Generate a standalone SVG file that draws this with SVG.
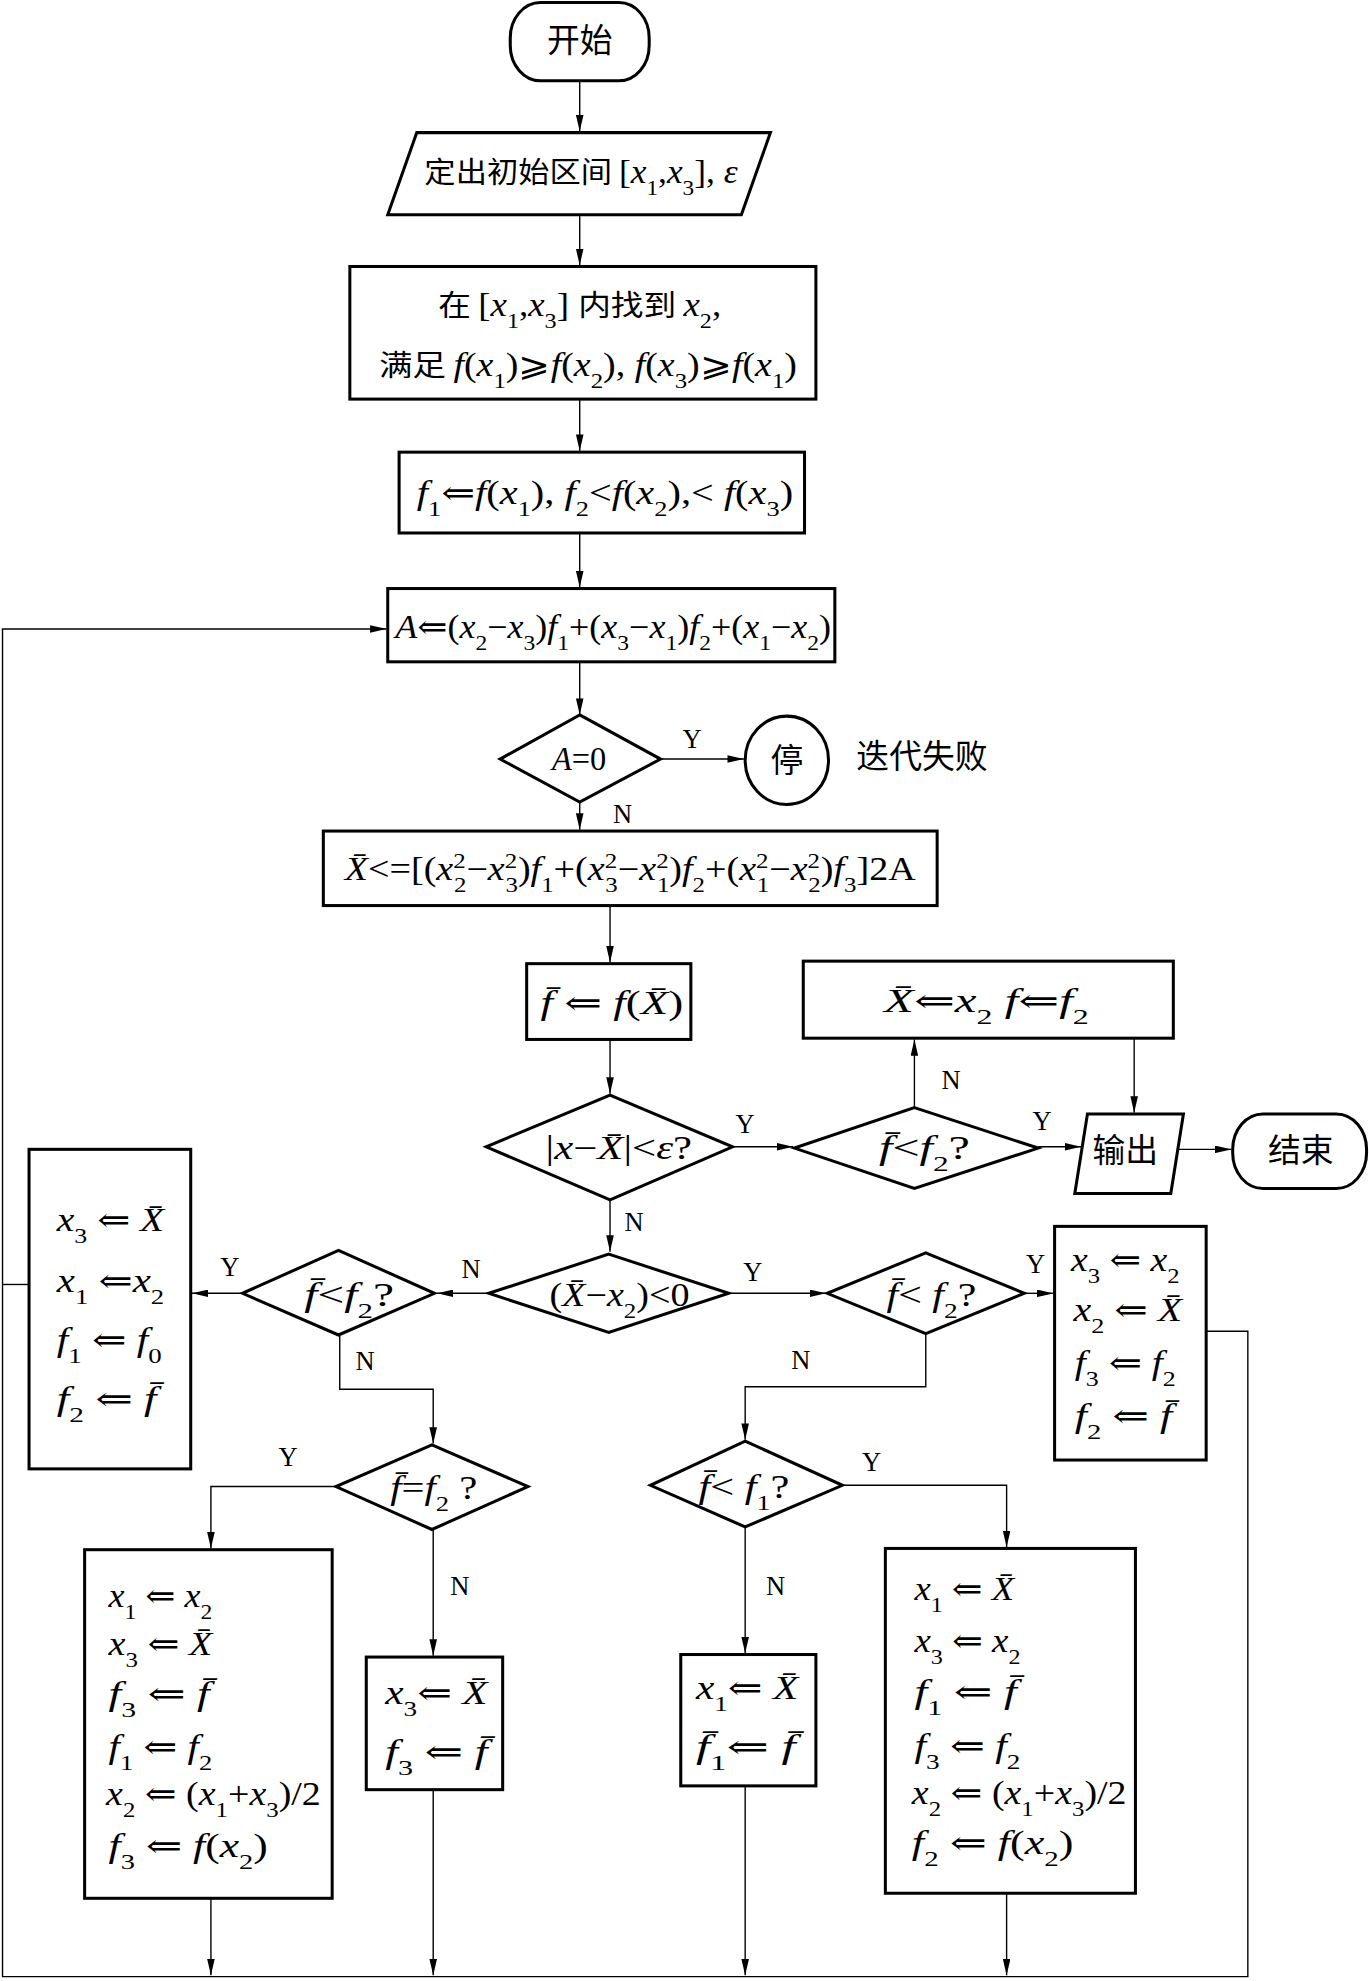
<svg xmlns="http://www.w3.org/2000/svg" width="1369" height="1981" viewBox="0 0 1369 1981">
<style>
.box{fill:#fff;stroke:#000;stroke-width:2.4}
.con{fill:none;stroke:#000;stroke-width:1.1}
.m{font-family:"Liberation Serif","DejaVu Serif","Noto Sans CJK SC",serif;font-size:26px;fill:#000}
.i{font-style:italic}
.cn{font-family:"Noto Sans CJK SC",sans-serif;font-style:normal}
.sb{font-size:17px;font-style:normal}
.lb{font-family:"Liberation Serif",serif;font-size:21px;fill:#000}
</style>
<defs>
<marker id="ah" viewBox="0 0 13 6" refX="13" refY="3" markerWidth="13" markerHeight="6" orient="auto" markerUnits="userSpaceOnUse"><path d="M0,0 L13,3 L0,6 z" fill="#000"/></marker>
</defs>
<rect width="1369" height="1981" fill="#fff"/>
<g transform="scale(1.263)">
<g id="connectors">
<path class="con" marker-end="url(#ah)" d="M459,64 V104"/>
<path class="con" marker-end="url(#ah)" d="M459,170 V210"/>
<path class="con" marker-end="url(#ah)" d="M459,316 V357"/>
<path class="con" marker-end="url(#ah)" d="M459,422 V465"/>
<path class="con" marker-end="url(#ah)" d="M459,524 V566"/>
<path class="con" marker-end="url(#ah)" d="M523,601 H589"/>
<path class="con" marker-end="url(#ah)" d="M459,635 V657"/>
<path class="con" marker-end="url(#ah)" d="M483,717 V762"/>
<path class="con" marker-end="url(#ah)" d="M483,823 V866"/>
<path class="con" marker-end="url(#ah)" d="M580,908 H628"/>
<path class="con" marker-end="url(#ah)" d="M724,877 V823"/>
<path class="con" marker-end="url(#ah)" d="M822,908 H856"/>
<path class="con" marker-end="url(#ah)" d="M898,822 V881"/>
<path class="con" marker-end="url(#ah)" d="M933,910 H975"/>
<path class="con" marker-end="url(#ah)" d="M483,950 V991"/>
<path class="con" marker-end="url(#ah)" d="M387,1024 H346"/>
<path class="con" marker-end="url(#ah)" d="M577,1024 H654"/>
<path class="con" marker-end="url(#ah)" d="M192,1024 H152"/>
<path class="con" marker-end="url(#ah)" d="M269,1057 V1100 H343 V1143"/>
<path class="con" marker-end="url(#ah)" d="M811,1024 H834"/>
<path class="con" marker-end="url(#ah)" d="M733,1056 V1098 H590 V1140"/>
<path class="con" marker-end="url(#ah)" d="M265,1177 H167 V1226"/>
<path class="con" marker-end="url(#ah)" d="M343,1211 V1311"/>
<path class="con" marker-end="url(#ah)" d="M667,1176 H797 V1225"/>
<path class="con" marker-end="url(#ah)" d="M590,1209 V1309"/>
<path class="con" marker-end="url(#ah)" d="M167,1503 V1564"/>
<path class="con" marker-end="url(#ah)" d="M343,1417 V1564"/>
<path class="con" marker-end="url(#ah)" d="M590,1414 V1564"/>
<path class="con" marker-end="url(#ah)" d="M797,1499 V1564"/>
<path class="con" marker-end="url(#ah)" d="M955,1054 H988 V1565 H2 V498 H306"/>
<path class="con" d="M23,1017 H2"/>
</g>
<g id="labels">
<text class="lb" x="548" y="592" text-anchor="middle">Y</text>
<text class="lb" x="493" y="652" text-anchor="middle">N</text>
<text class="lb" x="590" y="897" text-anchor="middle">Y</text>
<text class="lb" x="753" y="862" text-anchor="middle">N</text>
<text class="lb" x="825" y="895" text-anchor="middle">Y</text>
<text class="lb" x="502" y="975" text-anchor="middle">N</text>
<text class="lb" x="373" y="1012" text-anchor="middle">N</text>
<text class="lb" x="596" y="1014" text-anchor="middle">Y</text>
<text class="lb" x="182" y="1010" text-anchor="middle">Y</text>
<text class="lb" x="289" y="1085" text-anchor="middle">N</text>
<text class="lb" x="820" y="1008" text-anchor="middle">Y</text>
<text class="lb" x="634" y="1084" text-anchor="middle">N</text>
<text class="lb" x="228" y="1161" text-anchor="middle">Y</text>
<text class="lb" x="364" y="1263" text-anchor="middle">N</text>
<text class="lb" x="690" y="1165" text-anchor="middle">Y</text>
<text class="lb" x="614" y="1263" text-anchor="middle">N</text>
</g>
<g id="start">
<rect class="box" x="404" y="2" width="110" height="62" rx="24" ry="28"/>
<text class="m cn" x="459" y="41" text-anchor="middle" font-size="24">开始</text>
</g>
<g id="input">
<polygon class="box" points="330,105 610,105 587,170 307,170"/>
<text class="m" x="336" y="145" textLength="248" lengthAdjust="spacingAndGlyphs"><tspan class="cn" font-size="23">定出初始区间 </tspan>[<tspan class="i">x</tspan><tspan class="sb" baseline-shift="sub">1</tspan>,<tspan class="i">x</tspan><tspan class="sb" baseline-shift="sub">3</tspan>], <tspan class="i">ε</tspan></text>
</g>
<g id="find">
<rect class="box" x="277" y="211" width="369" height="105"/>
<text class="m" x="347" y="250" textLength="224" lengthAdjust="spacingAndGlyphs"><tspan class="cn" font-size="23">在 </tspan>[<tspan class="i">x</tspan><tspan class="sb" baseline-shift="sub">1</tspan>,<tspan class="i">x</tspan><tspan class="sb" baseline-shift="sub">3</tspan>] <tspan class="cn" font-size="23">内找到 </tspan><tspan class="i">x</tspan><tspan class="sb" baseline-shift="sub">2</tspan>,</text>
<text class="m" x="300" y="298" textLength="331" lengthAdjust="spacingAndGlyphs"><tspan class="cn" font-size="23">满足 </tspan><tspan class="i">f</tspan>(<tspan class="i">x</tspan><tspan class="sb" baseline-shift="sub">1</tspan>)⩾<tspan class="i">f</tspan>(<tspan class="i">x</tspan><tspan class="sb" baseline-shift="sub">2</tspan>), <tspan class="i">f</tspan>(<tspan class="i">x</tspan><tspan class="sb" baseline-shift="sub">3</tspan>)⩾<tspan class="i">f</tspan>(<tspan class="i">x</tspan><tspan class="sb" baseline-shift="sub">1</tspan>)</text>
</g>
<g id="init">
<rect class="box" x="316" y="358" width="321" height="64"/>
<text class="m" x="330" y="399" textLength="298" lengthAdjust="spacingAndGlyphs"><tspan class="i">f</tspan><tspan class="sb" baseline-shift="sub">1</tspan>⇐<tspan class="i">f</tspan>(<tspan class="i">x</tspan><tspan class="sb" baseline-shift="sub">1</tspan>), <tspan class="i">f</tspan><tspan class="sb" baseline-shift="sub">2</tspan>&lt;<tspan class="i">f</tspan>(<tspan class="i">x</tspan><tspan class="sb" baseline-shift="sub">2</tspan>),&lt; <tspan class="i">f</tspan>(<tspan class="i">x</tspan><tspan class="sb" baseline-shift="sub">3</tspan>)</text>
</g>
<g id="calcA">
<rect class="box" x="307" y="466" width="354" height="58"/>
<text class="m" x="313" y="505" textLength="345" lengthAdjust="spacingAndGlyphs"><tspan class="i">A</tspan>⇐(<tspan class="i">x</tspan><tspan class="sb" baseline-shift="sub">2</tspan>−<tspan class="i">x</tspan><tspan class="sb" baseline-shift="sub">3</tspan>)<tspan class="i">f</tspan><tspan class="sb" baseline-shift="sub">1</tspan>+(<tspan class="i">x</tspan><tspan class="sb" baseline-shift="sub">3</tspan>−<tspan class="i">x</tspan><tspan class="sb" baseline-shift="sub">1</tspan>)<tspan class="i">f</tspan><tspan class="sb" baseline-shift="sub">2</tspan>+(<tspan class="i">x</tspan><tspan class="sb" baseline-shift="sub">1</tspan>−<tspan class="i">x</tspan><tspan class="sb" baseline-shift="sub">2</tspan>)</text>
</g>
<g id="dA0">
<polygon class="box" points="459,566 523,601 459,635 396,601"/>
<text class="m" x="437" y="610" textLength="43" lengthAdjust="spacingAndGlyphs"><tspan class="i">A</tspan>=0</text>
</g>
<g id="stop">
<ellipse class="box" cx="623" cy="602" rx="33" ry="35"/>
<text class="m cn" x="623" y="611" text-anchor="middle" font-size="24">停</text>
</g>
<g id="failnote">
<text class="m cn" x="730" y="608" text-anchor="middle" font-size="23">迭代失败</text>
</g>
<g id="calcX">
<rect class="box" x="256" y="658" width="486" height="59"/>
<text class="m" x="273" y="697" textLength="452" lengthAdjust="spacingAndGlyphs"><tspan class="i">X̄</tspan>&lt;=[(<tspan class="i">x</tspan><tspan class="sb" baseline-shift="super">2</tspan><tspan class="sb" baseline-shift="sub" dx="-8">2</tspan>−<tspan class="i">x</tspan><tspan class="sb" baseline-shift="super">2</tspan><tspan class="sb" baseline-shift="sub" dx="-8">3</tspan>)<tspan class="i">f</tspan><tspan class="sb" baseline-shift="sub">1</tspan>+(<tspan class="i">x</tspan><tspan class="sb" baseline-shift="super">2</tspan><tspan class="sb" baseline-shift="sub" dx="-8">3</tspan>−<tspan class="i">x</tspan><tspan class="sb" baseline-shift="super">2</tspan><tspan class="sb" baseline-shift="sub" dx="-8">1</tspan>)<tspan class="i">f</tspan><tspan class="sb" baseline-shift="sub">2</tspan>+(<tspan class="i">x</tspan><tspan class="sb" baseline-shift="super">2</tspan><tspan class="sb" baseline-shift="sub" dx="-8">1</tspan>−<tspan class="i">x</tspan><tspan class="sb" baseline-shift="super">2</tspan><tspan class="sb" baseline-shift="sub" dx="-8">2</tspan>)<tspan class="i">f</tspan><tspan class="sb" baseline-shift="sub">3</tspan>]2A</text>
</g>
<g id="fbar">
<rect class="box" x="417" y="763" width="130" height="60"/>
<text class="m" x="428" y="803" textLength="113" lengthAdjust="spacingAndGlyphs"><tspan class="i">f̄</tspan> ⇐ <tspan class="i">f</tspan>(<tspan class="i">X̄</tspan>)</text>
</g>
<g id="dEps">
<polygon class="box" points="483,867 580,908 483,950 385,908"/>
<text class="m" x="432" y="918" textLength="116" lengthAdjust="spacingAndGlyphs">|<tspan class="i">x</tspan>−<tspan class="i">X̄</tspan>|&lt;<tspan class="i">ε</tspan>?</text>
</g>
<g id="dF2a">
<polygon class="box" points="724,877 822,909 724,941 629,909"/>
<text class="m" x="696" y="918" textLength="72" lengthAdjust="spacingAndGlyphs"><tspan class="i">f̄</tspan>&lt;<tspan class="i">f</tspan><tspan class="sb" baseline-shift="sub">2</tspan>?</text>
</g>
<g id="setX2">
<rect class="box" x="636" y="761" width="293" height="61"/>
<text class="m" x="700" y="801" textLength="162" lengthAdjust="spacingAndGlyphs"><tspan class="i">X̄</tspan>⇐<tspan class="i">x</tspan><tspan class="sb" baseline-shift="sub">2</tspan>  <tspan class="i">f</tspan>⇐<tspan class="i">f</tspan><tspan class="sb" baseline-shift="sub">2</tspan></text>
</g>
<g id="output">
<polygon class="box" points="861,882 937,882 927,945 851,945"/>
<text class="m cn" x="891" y="920" text-anchor="middle" font-size="23">输出</text>
</g>
<g id="end">
<rect class="box" x="976" y="882" width="106" height="59" rx="24" ry="28"/>
<text class="m cn" x="1030" y="920" text-anchor="middle" font-size="24">结束</text>
</g>
<g id="dX2">
<polygon class="box" points="482,993 577,1024 482,1055 387,1024"/>
<text class="m" x="435" y="1034" textLength="111" lengthAdjust="spacingAndGlyphs">(<tspan class="i">X̄</tspan>−<tspan class="i">x</tspan><tspan class="sb" baseline-shift="sub">2</tspan>)&lt;0</text>
</g>
<g id="dF2L">
<polygon class="box" points="268,990 344,1024 268,1057 192,1024"/>
<text class="m" x="241" y="1034" textLength="71" lengthAdjust="spacingAndGlyphs"><tspan class="i">f̄</tspan>&lt;<tspan class="i">f</tspan><tspan class="sb" baseline-shift="sub">2</tspan>?</text>
</g>
<g id="boxL">
<rect class="box" x="23" y="910" width="128" height="253"/>
<text class="m" x="45" y="975" textLength="85" lengthAdjust="spacingAndGlyphs"><tspan class="i">x</tspan><tspan class="sb" baseline-shift="sub">3</tspan> ⇐ <tspan class="i">X̄</tspan></text>
<text class="m" x="45" y="1023" textLength="85" lengthAdjust="spacingAndGlyphs"><tspan class="i">x</tspan><tspan class="sb" baseline-shift="sub">1</tspan> ⇐<tspan class="i">x</tspan><tspan class="sb" baseline-shift="sub">2</tspan></text>
<text class="m" x="45" y="1070" textLength="83" lengthAdjust="spacingAndGlyphs"><tspan class="i">f</tspan><tspan class="sb" baseline-shift="sub">1</tspan> ⇐ <tspan class="i">f</tspan><tspan class="sb" baseline-shift="sub">0</tspan></text>
<text class="m" x="45" y="1116" textLength="79" lengthAdjust="spacingAndGlyphs"><tspan class="i">f</tspan><tspan class="sb" baseline-shift="sub">2</tspan> ⇐ <tspan class="i">f̄</tspan></text>
</g>
<g id="dF2R">
<polygon class="box" points="733,992 811,1024 733,1056 655,1024"/>
<text class="m" x="702" y="1034" textLength="71" lengthAdjust="spacingAndGlyphs"><tspan class="i">f̄</tspan>&lt; <tspan class="i">f</tspan><tspan class="sb" baseline-shift="sub">2</tspan>?</text>
</g>
<g id="boxR">
<rect class="box" x="835" y="971" width="120" height="185"/>
<text class="m" x="848" y="1006" textLength="86" lengthAdjust="spacingAndGlyphs"><tspan class="i">x</tspan><tspan class="sb" baseline-shift="sub">3</tspan> ⇐ <tspan class="i">x</tspan><tspan class="sb" baseline-shift="sub">2</tspan></text>
<text class="m" x="850" y="1046" textLength="86" lengthAdjust="spacingAndGlyphs"><tspan class="i">x</tspan><tspan class="sb" baseline-shift="sub">2</tspan> ⇐ <tspan class="i">X̄</tspan></text>
<text class="m" x="851" y="1088" textLength="80" lengthAdjust="spacingAndGlyphs"><tspan class="i">f</tspan><tspan class="sb" baseline-shift="sub">3</tspan> ⇐ <tspan class="i">f</tspan><tspan class="sb" baseline-shift="sub">2</tspan></text>
<text class="m" x="851" y="1130" textLength="77" lengthAdjust="spacingAndGlyphs"><tspan class="i">f</tspan><tspan class="sb" baseline-shift="sub">2</tspan> ⇐ <tspan class="i">f̄</tspan></text>
</g>
<g id="dEqF2">
<polygon class="box" points="342,1144 418,1177 342,1211 266,1177"/>
<text class="m" x="309" y="1187" textLength="69" lengthAdjust="spacingAndGlyphs"><tspan class="i">f̄</tspan>=<tspan class="i">f</tspan><tspan class="sb" baseline-shift="sub">2</tspan> ?</text>
</g>
<g id="dF1">
<polygon class="box" points="590,1141 667,1176 590,1209 515,1176"/>
<text class="m" x="553" y="1186" textLength="72" lengthAdjust="spacingAndGlyphs"><tspan class="i">f̄</tspan>&lt; <tspan class="i">f</tspan><tspan class="sb" baseline-shift="sub">1</tspan>?</text>
</g>
<g id="boxLL">
<rect class="box" x="67" y="1227" width="196" height="276"/>
<text class="m" x="86" y="1272" textLength="82" lengthAdjust="spacingAndGlyphs"><tspan class="i">x</tspan><tspan class="sb" baseline-shift="sub">1</tspan> ⇐ <tspan class="i">x</tspan><tspan class="sb" baseline-shift="sub">2</tspan></text>
<text class="m" x="86" y="1310" textLength="82" lengthAdjust="spacingAndGlyphs"><tspan class="i">x</tspan><tspan class="sb" baseline-shift="sub">3</tspan> ⇐ <tspan class="i">X̄</tspan></text>
<text class="m" x="86" y="1350" textLength="80" lengthAdjust="spacingAndGlyphs"><tspan class="i">f</tspan><tspan class="sb" baseline-shift="sub">3</tspan> ⇐ <tspan class="i">f̄</tspan></text>
<text class="m" x="86" y="1392" textLength="82" lengthAdjust="spacingAndGlyphs"><tspan class="i">f</tspan><tspan class="sb" baseline-shift="sub">1</tspan> ⇐ <tspan class="i">f</tspan><tspan class="sb" baseline-shift="sub">2</tspan></text>
<text class="m" x="84" y="1429" textLength="170" lengthAdjust="spacingAndGlyphs"><tspan class="i">x</tspan><tspan class="sb" baseline-shift="sub">2</tspan> ⇐ (<tspan class="i">x</tspan><tspan class="sb" baseline-shift="sub">1</tspan>+<tspan class="i">x</tspan><tspan class="sb" baseline-shift="sub">3</tspan>)/2</text>
<text class="m" x="86" y="1470" textLength="126" lengthAdjust="spacingAndGlyphs"><tspan class="i">f</tspan><tspan class="sb" baseline-shift="sub">3</tspan> ⇐ <tspan class="i">f</tspan>(<tspan class="i">x</tspan><tspan class="sb" baseline-shift="sub">2</tspan>)</text>
</g>
<g id="boxLM">
<rect class="box" x="290" y="1312" width="108" height="105"/>
<text class="m" x="305" y="1349" textLength="81" lengthAdjust="spacingAndGlyphs"><tspan class="i">x</tspan><tspan class="sb" baseline-shift="sub">3</tspan>⇐ <tspan class="i">X̄</tspan></text>
<text class="m" x="305" y="1396" textLength="81" lengthAdjust="spacingAndGlyphs"><tspan class="i">f</tspan><tspan class="sb" baseline-shift="sub">3</tspan> ⇐ <tspan class="i">f̄</tspan></text>
</g>
<g id="boxRM">
<rect class="box" x="539" y="1310" width="107" height="104"/>
<text class="m" x="551" y="1345" textLength="81" lengthAdjust="spacingAndGlyphs"><tspan class="i">x</tspan><tspan class="sb" baseline-shift="sub">1</tspan>⇐ <tspan class="i">X̄</tspan></text>
<text class="m" x="551" y="1392" textLength="79" lengthAdjust="spacingAndGlyphs"><tspan class="i">f̄</tspan><tspan class="sb" baseline-shift="sub">1</tspan>⇐ <tspan class="i">f̄</tspan></text>
</g>
<g id="boxRR">
<rect class="box" x="701" y="1226" width="198" height="273"/>
<text class="m" x="724" y="1267" textLength="79" lengthAdjust="spacingAndGlyphs"><tspan class="i">x</tspan><tspan class="sb" baseline-shift="sub">1</tspan> ⇐ <tspan class="i">X̄</tspan></text>
<text class="m" x="724" y="1308" textLength="84" lengthAdjust="spacingAndGlyphs"><tspan class="i">x</tspan><tspan class="sb" baseline-shift="sub">3</tspan> ⇐ <tspan class="i">x</tspan><tspan class="sb" baseline-shift="sub">2</tspan></text>
<text class="m" x="724" y="1348" textLength="81" lengthAdjust="spacingAndGlyphs"><tspan class="i">f</tspan><tspan class="sb" baseline-shift="sub">1</tspan> ⇐ <tspan class="i">f̄</tspan></text>
<text class="m" x="724" y="1391" textLength="84" lengthAdjust="spacingAndGlyphs"><tspan class="i">f</tspan><tspan class="sb" baseline-shift="sub">3</tspan> ⇐ <tspan class="i">f</tspan><tspan class="sb" baseline-shift="sub">2</tspan></text>
<text class="m" x="722" y="1428" textLength="170" lengthAdjust="spacingAndGlyphs"><tspan class="i">x</tspan><tspan class="sb" baseline-shift="sub">2</tspan> ⇐ (<tspan class="i">x</tspan><tspan class="sb" baseline-shift="sub">1</tspan>+<tspan class="i">x</tspan><tspan class="sb" baseline-shift="sub">3</tspan>)/2</text>
<text class="m" x="722" y="1468" textLength="128" lengthAdjust="spacingAndGlyphs"><tspan class="i">f</tspan><tspan class="sb" baseline-shift="sub">2</tspan> ⇐ <tspan class="i">f</tspan>(<tspan class="i">x</tspan><tspan class="sb" baseline-shift="sub">2</tspan>)</text>
</g>
</g>
</svg>
